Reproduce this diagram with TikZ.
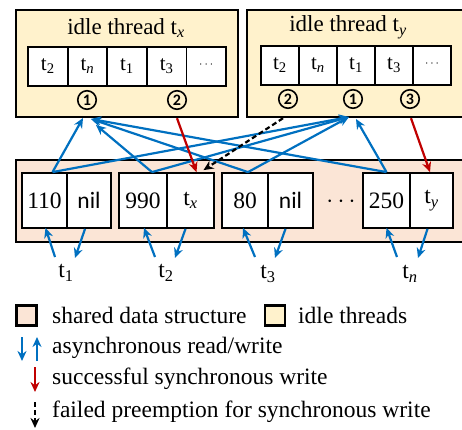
\documentclass[tikz,border=0pt]{standalone}
\usepackage{fontspec}
\setmainfont{Liberation Serif}
\newfontfamily\sansf{Carlito}
\usetikzlibrary{arrows.meta,calc}
\definecolor{myblue}{RGB}{0,112,192}
\definecolor{myred}{RGB}{192,0,0}
\definecolor{idlefill}{RGB}{255,242,204}
\definecolor{sharedfill}{RGB}{251,229,214}
\begin{document}
\begin{tikzpicture}[x=1pt,y=-1pt,
 idlebox/.style={draw, line width=2.4pt, fill=idlefill, inner sep=0pt},
 sharedbox/.style={draw, line width=2.4pt, fill=sharedfill, inner sep=0pt},
 qcell/.style={draw, line width=1.8pt, fill=white, minimum height=39pt, inner sep=0pt, font=\fontsize{21}{21}\selectfont},
 dcell/.style={draw, line width=1.8pt, fill=white, minimum height=55pt, inner sep=0pt, font=\fontsize{23.5}{23.5}\selectfont},
 num/.style={circle, draw, line width=1.6pt, inner sep=0pt, minimum size=18.5pt, font=\sansf\bfseries\fontsize{16}{16}\selectfont},
 title/.style={font=\fontsize{23}{23}\selectfont, inner sep=0pt},
 lbl/.style={font=\fontsize{23.5}{23.5}\selectfont, inner sep=0pt},
 legsq/.style={draw, line width=2.2pt, minimum size=20pt, inner sep=0pt},
 async/.style={draw=myblue, line width=2.2pt, -{Stealth[length=10pt,width=9pt]}},
 sync/.style={draw=myred, line width=2.2pt, -{Stealth[length=10pt,width=9pt]}},
 failed/.style={draw=black, line width=2.2pt, dash pattern=on 5pt off 3pt, -{Stealth[length=10pt,width=9pt]}},
]
\useasboundingbox (0,0) rectangle (462,429);

% idle thread boxes
\node[idlebox, minimum width=222pt, minimum height=107pt] (tx) at (127,63.5) {};
\node[idlebox, minimum width=218pt, minimum height=107pt] (ty) at (356,63.5) {};
\node[title] (txt) at (126,28) {idle thread t\textsubscript{\itshape x}};
\node[title] (tyt) at (348,27) {idle thread t\textsubscript{\itshape y}};

% queue of tx
\node[qcell, minimum width=39.6pt] (a1) at (47.8,66.5) {t\textsubscript{2}};
\node[qcell, minimum width=39.6pt] (a2) at (87.4,66.5) {t\textsubscript{\itshape n}};
\node[qcell, minimum width=39.6pt] (a3) at (127,66.5) {t\textsubscript{1}};
\node[qcell, minimum width=39.6pt] (a4) at (166.6,66.5) {t\textsubscript{3}};
\node[qcell, minimum width=39.6pt, font=\fontsize{13}{13}\selectfont] (a5) at (206.2,66.5) {\raisebox{4pt}{$\cdots$}};
% queue of ty
\node[qcell, minimum width=38pt] (b1) at (280,65.5) {t\textsubscript{2}};
\node[qcell, minimum width=38pt] (b2) at (318,65.5) {t\textsubscript{\itshape n}};
\node[qcell, minimum width=38pt] (b3) at (356,65.5) {t\textsubscript{1}};
\node[qcell, minimum width=38pt] (b4) at (394,65.5) {t\textsubscript{3}};
\node[qcell, minimum width=38pt, font=\fontsize{13}{13}\selectfont] (b5) at (432,65.5) {\raisebox{4pt}{$\cdots$}};

% circled numbers
\node[num] (x1) at (87,100) {1};
\node[num] (x2) at (177,100) {2};
\node[num] (y2) at (288,99) {2};
\node[num] (y1) at (353,99) {1};
\node[num] (y3) at (410,99) {3};

% shared data structure
\node[sharedbox, minimum width=449pt, minimum height=82pt] (sh) at (240.5,201) {};
\node[dcell, minimum width=45pt] (v1) at (44.5,200.5) {110};
\node[dcell, minimum width=44pt, font=\sansf\fontsize{23.5}{23.5}\selectfont] (p1) at (89,200.5) {nil};
\node[dcell, minimum width=48pt] (v2) at (143,200.5) {990};
\node[dcell, minimum width=47pt] (p2) at (190.5,200.5) {t\textsubscript{\itshape x}};
\node[dcell, minimum width=46pt] (v3) at (245,200.5) {80};
\node[dcell, minimum width=45pt, font=\sansf\fontsize{23.5}{23.5}\selectfont] (p3) at (290.5,200.5) {nil};
\node[lbl] (dots) at (341,202) {$\cdots$};
\node[dcell, minimum width=47pt] (v4) at (386.5,200.5) {250};
\node[dcell, minimum width=43pt] (p4) at (431.5,200.5) {t\textsubscript{\itshape y}};

% thread labels
\node[lbl] (l1) at (66,273) {t\textsubscript{1}};
\node[lbl] (l2) at (166,273) {t\textsubscript{2}};
\node[lbl] (l3) at (268,274) {t\textsubscript{3}};
\node[lbl] (l4) at (410,274) {t\textsubscript{\itshape n}};

% targets at idle threads
\coordinate (txL) at (83,118);
\coordinate (txM) at (96,125);
\coordinate (txR) at (91,119);
\coordinate (tyL) at (349,117);
\coordinate (tyR) at (356,119);

% asynchronous read/write between data and idle threads
\draw[async] ([xshift=8pt]v1.north) -- (txL);
\draw[async] ([xshift=8pt]v1.north) -- (tyL);
\draw[async] ([xshift=9pt]v2.north) -- (txM);
\draw[async] ([xshift=9pt]v2.north) -- (tyL);
\draw[async] ([xshift=3pt]v3.north) -- (txR);
\draw[async] ([xshift=3pt]v3.north) -- (tyL);
\draw[async] (v4.north) -- (txR);
\draw[async] (v4.north) -- (tyR);

% synchronous writes
\draw[sync] (x2.south |- tx.south) -- ([xshift=6pt]p2.north);
\draw[sync] ([xshift=1pt]y3.south |- ty.south) -- ([xshift=-1.5pt]p4.north);
\draw[failed] ([xshift=-5pt]y2.south |- ty.south) -- ([xshift=13pt,yshift=2pt]p2.north);

% asynchronous read/write by threads
\draw[async] ($(l1.center)+(-11,-16)$) -- ([xshift=1pt,yshift=1pt]v1.south);
\draw[async] ([xshift=-4pt]p1.south) -- ($(l1.center)+(9,-15)$);
\draw[async] ($(l2.center)+(-11,-16)$) -- ([xshift=1pt,yshift=1pt]v2.south);
\draw[async] ([xshift=-5pt]p2.south) -- ($(l2.center)+(9,-15)$);
\draw[async] ($(l3.center)+(-13,-17)$) -- ([xshift=-2pt,yshift=1pt]v3.south);
\draw[async] ([xshift=-5pt]p3.south) -- ($(l3.center)+(7,-16)$);
\draw[async] ($(l4.center)+(-13,-17)$) -- ([xshift=0pt,yshift=1pt]v4.south);
\draw[async] ([xshift=-4pt]p4.south) -- ($(l4.center)+(8,-16)$);

% legend
\node[legsq, fill=sharedfill] (lg1) at (26.5,315.5) {};
\node[lbl, anchor=west] (lt1) at (52,315) {shared data structure};
\node[legsq, fill=idlefill] (lg2) at (275,315.5) {};
\node[lbl, anchor=west] (lt2) at (298,315) {idle threads};
\coordinate (la1) at (22,337);
\coordinate (la2) at (22,361);
\coordinate (la3) at (37,361);
\coordinate (la4) at (37,337);
\draw[async] (la1) -- (la2);
\draw[async] (la3) -- (la4);
\node[lbl, anchor=west] (lt3) at (52,348) {asynchronous read/write};
\coordinate (lr1) at (35,367);
\coordinate (lr2) at (35,392);
\draw[sync] (lr1) -- (lr2);
\node[lbl, anchor=west] (lt4) at (52,379) {successful synchronous write};
\coordinate (lk1) at (35,402);
\coordinate (lk2) at (35,428);
\draw[failed] (lk1) -- (lk2);
\node[lbl, anchor=west] (lt5) at (52,412) {failed preemption for synchronous write};
\end{tikzpicture}
\end{document}
